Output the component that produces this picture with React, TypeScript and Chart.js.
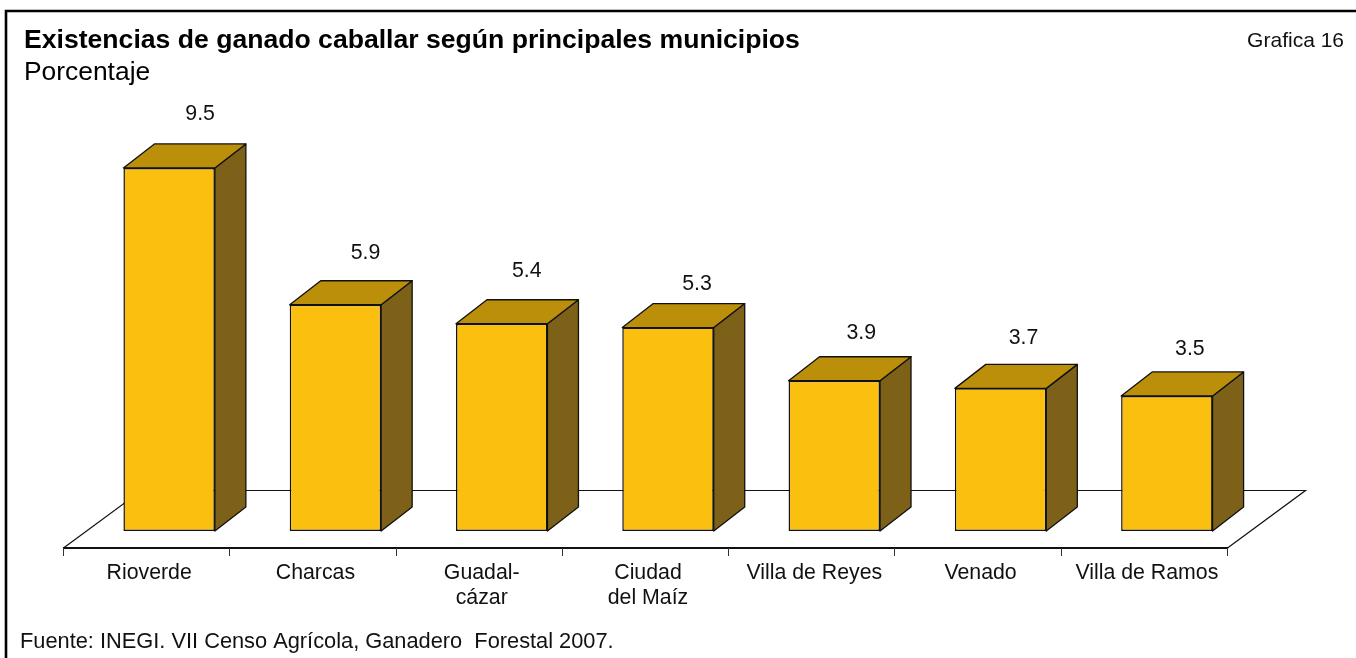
import React, { useEffect, useRef } from "react";
import { Chart, registerables } from "chart.js";

Chart.register(...registerables);

const categories = ["Rioverde", "Charcas", ["Guadal-", "cázar"], ["Ciudad", "del Maíz"], "Villa de Reyes", "Venado", "Villa de Ramos"];
const values = [9.5, 5.9, 5.4, 5.3, 3.9, 3.7, 3.5];
const valueLabels = ["9.5", "5.9", "5.4", "5.3", "3.9", "3.7", "3.5"];
const chartTitle = "Existencias de ganado caballar según principales municipios";
const chartSubtitle = "Porcentaje";
const chartNumber = "Grafica 16";
const sourceNote = "Fuente: INEGI. VII Censo Agrícola, Ganadero  Forestal 2007.";

const FONT = '"Liberation Sans", Arial, sans-serif';
const FRONT = "#FBC00F";
const TOP = "#BC8F0B";
const SIDE = "#7E6119";
const INK = "#111111";
const BAR_DX = 31;
const BAR_DY = 24;
const FLOOR_FRONT_DX = 23;
const FLOOR_FRONT_DY = 17;
const FLOOR_BACK_DX = 55;
const FLOOR_BACK_DY = 41;
const AXIS_MIN = -0.053;
const labelShiftX = [31, 30, 25, 29, 27, 23, 23];
const labelShiftY = [54, 52, 53, 43, 48, 50, 47];

const poly = (ctx: CanvasRenderingContext2D, pts: number[][], fill: string | null, stroke: string, lw = 1.3) => {
  ctx.beginPath();
  pts.forEach((p, i) => (i ? ctx.lineTo(p[0], p[1]) : ctx.moveTo(p[0], p[1])));
  ctx.closePath();
  if (fill) { ctx.fillStyle = fill; ctx.fill(); }
  ctx.strokeStyle = stroke;
  ctx.lineWidth = lw;
  ctx.lineJoin = "round";
  ctx.stroke();
};

const decor = {
  id: "decor",
  beforeDraw(chart: any) {
    const { ctx, width, height } = chart;
    ctx.save();
    ctx.fillStyle = "#fff";
    ctx.fillRect(0, 0, width, height);
    ctx.strokeStyle = "#000";
    ctx.lineWidth = 2.6;
    ctx.beginPath();
    ctx.moveTo(6, height);
    ctx.lineTo(6, 11);
    ctx.lineTo(width, 11);
    ctx.stroke();
    ctx.restore();
  },
  beforeDatasetsDraw(chart: any) {
    const { ctx, chartArea } = chart;
    const x = chart.scales.x;
    const step = x.getPixelForValue(1) - x.getPixelForValue(0);
    const left = x.getPixelForValue(0) - step / 2;
    const right = x.getPixelForValue(values.length - 1) + step / 2;
    const b = chartArea.bottom;
    ctx.save();
    // floor
    const fl = left - FLOOR_FRONT_DX;
    const fr = right - FLOOR_FRONT_DX;
    const fy = b + FLOOR_FRONT_DY;
    const by = b - FLOOR_BACK_DY;
    ctx.lineWidth = 1.2;
    ctx.strokeStyle = INK;
    ctx.beginPath();
    ctx.moveTo(fl + 0.5, fy);
    ctx.lineTo(left + FLOOR_BACK_DX + 0.5, by + 0.5);
    ctx.lineTo(right + FLOOR_BACK_DX + 0.5, by + 0.5);
    ctx.lineTo(fr + 0.5, fy);
    ctx.stroke();
    // front axis line and ticks
    ctx.lineWidth = 1.8;
    ctx.beginPath();
    ctx.moveTo(fl, fy);
    ctx.lineTo(fr + 1, fy);
    ctx.stroke();
    ctx.lineWidth = 1;
    ctx.strokeStyle = "#333";
    ctx.beginPath();
    for (let i = 0; i <= values.length; i++) {
      const px = Math.round(fl + i * step) + 0.5;
      ctx.moveTo(px, fy);
      ctx.lineTo(px, fy + 8);
    }
    ctx.stroke();
    // 3D sides
    chart.getDatasetMeta(0).data.forEach((bar: any) => {
      const { x: cx, y, width: w, base } = bar.getProps(["x", "y", "width", "base"], true);
      const r = cx + w / 2;
      const l = cx - w / 2;
      poly(ctx, [[r, y], [r + BAR_DX, y - BAR_DY], [r + BAR_DX, base - BAR_DY], [r, base]], SIDE, INK);
      poly(ctx, [[l, y], [l + BAR_DX, y - BAR_DY], [r + BAR_DX, y - BAR_DY], [r, y]], TOP, INK);
    });
    ctx.restore();
  },
  afterDatasetsDraw(chart: any) {
    const { ctx } = chart;
    ctx.save();
    ctx.fillStyle = "#111";
    ctx.textBaseline = "middle";
    ctx.font = `21.3px ${FONT}`;
    ctx.textAlign = "center";
    chart.getDatasetMeta(0).data.forEach((bar: any, i: number) => {
      ctx.fillText(valueLabels[i], bar.x + labelShiftX[i], bar.y - labelShiftY[i]);
    });
    ctx.font = `21px ${FONT}`;
    ctx.textAlign = "right";
    ctx.fillText(chartNumber, 1344, 41);
    ctx.font = `21.8px ${FONT}`;
    ctx.textAlign = "left";
    ctx.fillText(sourceNote, 20, 642);
    ctx.restore();
  },
};

export default function App() {
  const ref = useRef<HTMLCanvasElement>(null);
  useEffect(() => {
    const chart = new Chart(ref.current!, {
      type: "bar",
      data: {
        labels: categories as any,
        datasets: [{
          data: values,
          base: AXIS_MIN,
          backgroundColor: FRONT,
          borderColor: INK,
          borderWidth: 1.5,
          borderSkipped: false,
          barPercentage: 0.55,
          categoryPercentage: 1,
        }],
      },
      options: {
        responsive: false,
        animation: false,
        layout: { padding: { left: 24, right: 106, top: 25, bottom: 0 } },
        plugins: {
          legend: { display: false },
          tooltip: { enabled: false },
          title: {
            display: true, text: chartTitle, align: "start", color: "#000",
            font: { family: FONT, size: 26.6, weight: "bold", lineHeight: 1.15 }, padding: 0,
          },
          subtitle: {
            display: true, text: chartSubtitle, align: "start", color: "#000",
            font: { family: FONT, size: 26.4, weight: "normal", lineHeight: 1.15 }, padding: { top: 2, bottom: 61 },
          },
        },
        scales: {
          x: {
            type: "category",
            offset: true,
            border: { display: false },
            grid: { display: false },
            ticks: {
              color: "#111", font: { family: FONT, size: 21.3, lineHeight: 1.2 },
              padding: 21, labelOffset: -20, maxRotation: 0, minRotation: 0, autoSkip: false,
            },
            afterFit: (s: any) => { s.height = 127; },
          },
          y: {
            min: AXIS_MIN, max: 10,
            border: { display: false },
            grid: { display: false },
            ticks: { display: false },
            afterFit: (s: any) => { s.width = 62; },
          },
        },
      },
      plugins: [decor],
    } as any);
    return () => chart.destroy();
  }, []);
  return (
    <div style={{ position: "absolute", left: 0, top: 0 }}>
      <canvas ref={ref} width={1356} height={658} style={{ display: "block" }} />
    </div>
  );
}
